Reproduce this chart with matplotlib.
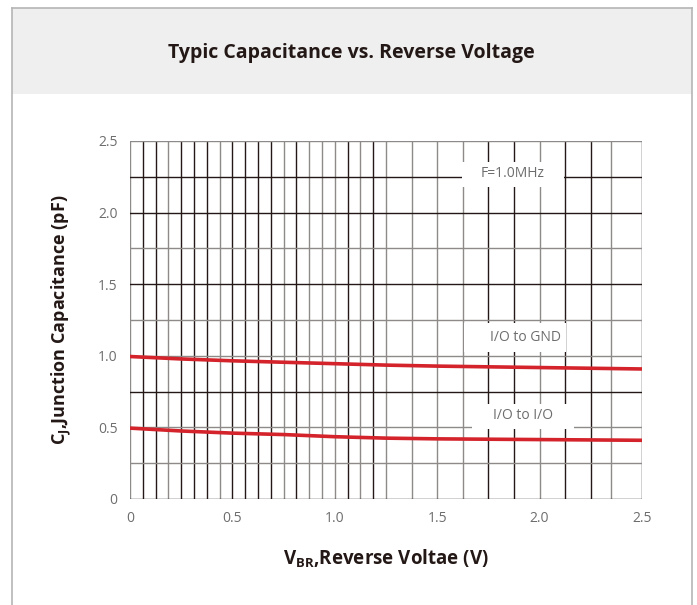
from matplotlib import pyplot as plt
from matplotlib.patches import Rectangle
from matplotlib.lines import Line2D
import numpy as np

plt.rcParams['font.family'] = ['Open Sans', 'DejaVu Sans']
plt.rcParams['mathtext.fontset'] = 'custom'
plt.rcParams['mathtext.rm'] = 'Open Sans'
plt.rcParams['mathtext.bf'] = 'Open Sans:bold'

# data
voltage = [0, 0.25, 0.5, 0.75, 1.0, 1.25, 1.5, 2.0, 2.5]
io_gnd = [0.995, 0.978, 0.965, 0.955, 0.945, 0.935, 0.928, 0.918, 0.908]
io_io = [0.495, 0.475, 0.46, 0.45, 0.435, 0.425, 0.42, 0.415, 0.41]
x_ticks = [0, 0.5, 1.0, 1.5, 2.0, 2.5]
x_tick_labels = ["0", "0.5", "1.0", "1.5", "2.0", "2.5"]
y_ticks = [0, 0.5, 1.0, 1.5, 2.0, 2.5]
y_tick_labels = ["0", "0.5", "1.0", "1.5", "2.0", "2.5"]

dark = "#231815"
gray = "#8e8a89"
red = "#d4232b"

# grid layout (chart paper look)
vgrid = list(np.arange(0, 1.25, 0.0625)) + list(np.arange(1.25, 2.3, 0.125)) + [2.35, 2.5]
vshade = ["g", "d", "d", "g", "d", "d", "d", "g", "d", "d", "d", "d", "g", "d", "g", "g",
          "g", "d", "g", "d", "g", "g", "g", "g", "d", "d", "g", "d", "d", "g", "d"]
hgrid = [0, 0.25, 0.5, 0.75, 1.0, 1.25, 1.5, 1.75, 2.0, 2.25, 2.5]
hshade = ["d", "g", "g", "d", "g", "g", "d", "g", "d", "d", "g"]

fig = plt.figure(figsize=(6.97, 6.05), dpi=100)

# frame and header band
fig.patches.append(Rectangle((12 / 697, 1 - 94 / 605), 680 / 697, 86 / 605,
                             transform=fig.transFigure, facecolor="#efefef",
                             edgecolor="none", zorder=0))
fig.lines.append(Line2D([12 / 697, 692 / 697], [1 - 8 / 605, 1 - 8 / 605],
                        transform=fig.transFigure, color="#b5b5b5", lw=1.2))
fig.lines.append(Line2D([12 / 697, 12 / 697], [0, 1 - 8 / 605],
                        transform=fig.transFigure, color="#b5b5b5", lw=1.2))
fig.lines.append(Line2D([692 / 697, 692 / 697], [0, 1 - 8 / 605],
                        transform=fig.transFigure, color="#b5b5b5", lw=1.2))
fig.text(351 / 697, 1 - 53 / 605, "Typic Capacitance vs. Reverse Voltage",
         ha="center", va="center", fontsize=14, fontweight="bold", color=dark)

ax = fig.add_axes([130 / 697, 1 - 499 / 605, 512 / 697, 358 / 605])
ax.set_xlim(0, 2.5)
ax.set_ylim(0, 2.5)
for s in ax.spines.values():
    s.set_visible(False)

for v, s in zip(vgrid, vshade):
    ax.axvline(v, color=dark if s == "d" else gray, lw=1.0, zorder=1)
for h, s in zip(hgrid, hshade):
    ax.axhline(h, color=dark if s == "d" else gray, lw=1.0, zorder=1)

ax.plot(voltage, io_gnd, color=red, lw=2.6, zorder=3, solid_capstyle="butt")
ax.plot(voltage, io_io, color=red, lw=2.6, zorder=3, solid_capstyle="butt")

# label boxes over the grid
boxes = [("F=1.0MHz", 1.62, 2.18, 0.50, 0.17, 1.87, 2.27),
         ("I/O to GND", 1.63, 1.03, 0.50, 0.20, 1.93, 1.125),
         ("I/O to I/O", 1.67, 0.49, 0.50, 0.17, 1.92, 0.585)]
for txt, bx, by, bw, bh, tx, ty in boxes:
    ax.add_patch(Rectangle((bx, by), bw, bh, facecolor="white", edgecolor="none", zorder=2))
    ax.text(tx, ty, txt, ha="center", va="center", fontsize=10, color="#6d6d6d", zorder=4)

ax.set_xticks(x_ticks)
ax.set_xticklabels(x_tick_labels)
ax.set_yticks(y_ticks)
ax.set_yticklabels(y_tick_labels)
ax.tick_params(length=0, labelsize=10, labelcolor="#6d6d6d", pad=9)

ax.set_xlabel(r"V$_{\mathbf{BR}}$,Reverse Voltae (V)", fontsize=13.5, fontweight="bold",
              color=dark, labelpad=15)
ax.set_ylabel(r"C$_{\mathbf{J}}$,Junction Capacitance (pF)", fontsize=13, fontweight="bold",
              color=dark, labelpad=18)

fig.savefig("out.png", dpi=100)
